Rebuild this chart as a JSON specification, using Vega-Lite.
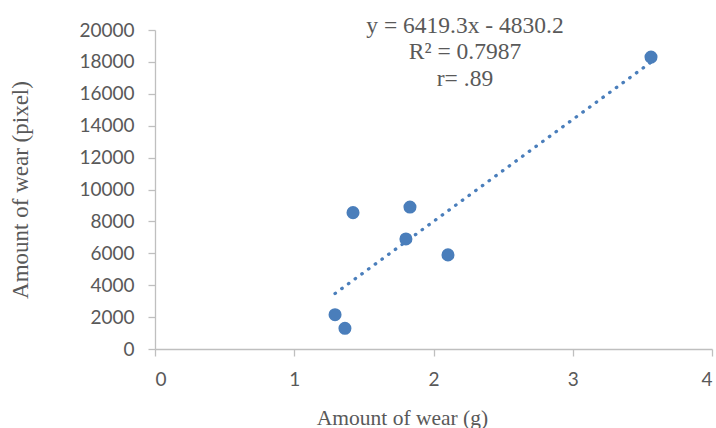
{
  "$schema": "https://vega.github.io/schema/vega-lite/v6.json",
  "width": 557,
  "height": 319,
  "autosize": "none",
  "padding": {"left": 155, "top": 30, "right": 4, "bottom": 79},
  "background": "white",
  "config": {
    "view": {"stroke": null},
    "axis": {
      "grid": false,
      "domainColor": "#bfbfbf",
      "domainWidth": 1.3,
      "tickColor": "#bfbfbf",
      "tickWidth": 1.3,
      "tickSize": 7,
      "labelFont": "Lato",
      "labelFontSize": 19,
      "labelColor": "#595959",
      "labelOverlap": false,
      "titleFont": "Liberation Serif",
      "titleFontWeight": "normal",
      "titleColor": "#595959"
    }
  },
  "datasets": {
    "points": [
      {"x": 3.562, "y": 18300},
      {"x": 1.422, "y": 8550},
      {"x": 1.831, "y": 8900},
      {"x": 1.802, "y": 6900},
      {"x": 2.104, "y": 5900},
      {"x": 1.293, "y": 2150},
      {"x": 1.364, "y": 1300}
    ],
    "notes": [
      {"x": 2.226, "y": 19812, "label": "y = 6419.3x - 4830.2"},
      {"x": 2.226, "y": 18182, "label": "R² = 0.7987"},
      {"x": 2.226, "y": 16489, "label": "r= .89"}
    ]
  },
  "layer": [
    {
      "data": {"name": "points"},
      "transform": [{"regression": "y", "on": "x"}],
      "mark": {"type": "line", "color": "#4a7ebb", "strokeWidth": 3.3, "strokeCap": "round", "strokeDash": [0.5, 7.8]},
      "encoding": {
        "x": {
          "field": "x", "type": "quantitative",
          "scale": {"domain": [0, 4], "nice": false},
          "axis": {"values": [0, 1, 2, 3, 4], "tickCount": 5, "format": "d", "title": "Amount of wear (g)", "titleFontSize": 21.5, "labelPadding": 14,
                   "titleX": 247, "titleY": 75, "titleAlign": "center", "titleBaseline": "alphabetic"}
        },
        "y": {
          "field": "y", "type": "quantitative",
          "scale": {"domain": [0, 20000], "nice": false},
          "axis": {"values": [0, 2000, 4000, 6000, 8000, 10000, 12000, 14000, 16000, 18000, 20000], "tickCount": 11,
                   "title": "Amount of wear (pixel)", "titleFontSize": 23, "labelPadding": 14, "format": "d",
                   "titleX": -128, "titleY": 159.5, "titleAngle": -90, "titleAlign": "center", "titleBaseline": "alphabetic"}
        }
      }
    },
    {
      "data": {"name": "points"},
      "mark": {"type": "circle", "size": 170, "color": "#4a7ebb", "opacity": 1},
      "encoding": {
        "x": {"field": "x", "type": "quantitative"},
        "y": {"field": "y", "type": "quantitative"}
      }
    },
    {
      "data": {"name": "notes"},
      "mark": {"type": "text", "font": "Liberation Serif", "fontSize": 23.5, "color": "#595959", "align": "center", "baseline": "alphabetic", "clip": false},
      "encoding": {
        "x": {"field": "x", "type": "quantitative"},
        "y": {"field": "y", "type": "quantitative"},
        "text": {"field": "label"}
      }
    }
  ]
}
